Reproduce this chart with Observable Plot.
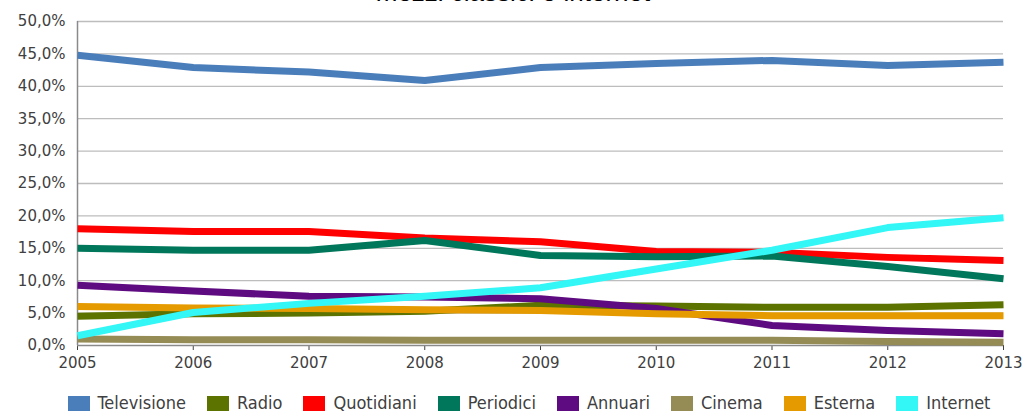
<!DOCTYPE html>
<html lang="it">
<head>
<meta charset="utf-8">
<script src="https://cdn.jsdelivr.net/npm/d3@7"></script>
<script src="https://cdn.jsdelivr.net/npm/@observablehq/plot@0.6"></script>
<style>
  html, body { margin: 0; padding: 0; background: #fff; }
  #wrap { position: relative; width: 1022px; height: 412px; overflow: hidden; }
  #title {
    position: absolute; top: -21px; left: 0; width: 1026px; text-align: center;
    font: 26px "Liberation Sans", Arial, sans-serif; line-height: 27px; color: #000;
  }
  #chart { position: absolute; top: 0; left: 0; }
  #legend {
    position: absolute; top: 395px; left: 0; width: 1022px; padding-left: 36px; box-sizing: border-box;
    display: flex; justify-content: center; gap: 21px;
    font: 18px "DejaVu Sans Condensed", "DejaVu Sans", sans-serif; color: #404040; line-height: 16px;
  }
  #legend .item { display: flex; align-items: center; gap: 8px; }
  #legend .sw { width: 22px; height: 15px; display: inline-block; }
</style>
</head>
<body>
<div id="wrap">
  <div id="title">mezzi classici e internet</div>
  <div id="chart"></div>
  <div id="legend"></div>
</div>
<script>
// Anni e quote di investimento pubblicitario per mezzo (%)
const years = [2005, 2006, 2007, 2008, 2009, 2010, 2011, 2012, 2013];
const televisione = [44.8, 42.9, 42.2, 40.9, 42.9, 43.5, 44.0, 43.2, 43.7];
const radio       = [4.5, 4.9, 5.0, 5.3, 6.2, 6.1, 5.9, 5.9, 6.3];
const quotidiani  = [18.0, 17.6, 17.6, 16.6, 16.0, 14.5, 14.4, 13.6, 13.1];
const periodici   = [15.0, 14.7, 14.7, 16.2, 13.9, 13.7, 13.8, 12.2, 10.3];
const annuari     = [9.3, 8.4, 7.6, 7.5, 7.2, 5.7, 3.1, 2.3, 1.8];
const cinema      = [1.0, 0.9, 0.9, 0.8, 0.8, 0.8, 0.8, 0.6, 0.5];
const esterna     = [6.0, 5.8, 5.7, 5.5, 5.4, 4.9, 4.6, 4.6, 4.6];
const internet    = [1.5, 5.1, 6.5, 7.6, 8.9, 11.8, 14.7, 18.2, 19.7];

const seriesNames = ["Televisione", "Radio", "Quotidiani", "Periodici", "Annuari", "Cinema", "Esterna", "Internet"];
const seriesValues = [televisione, radio, quotidiani, periodici, annuari, cinema, esterna, internet];
const seriesColors = ["#4a7ebb", "#5c7300", "#ff0000", "#00775a", "#5e0a80", "#958b55", "#e59b00", "#33f6f6"];
const yTicks = [0, 5, 10, 15, 20, 25, 30, 35, 40, 45, 50];

// Formato italiano: virgola decimale
const it = d3.formatLocale({decimal: ",", thousands: ".", grouping: [3], currency: ["€", ""]});
const fmt1 = it.format(".1f");

// Tabella lunga: una riga per mezzo e anno
const rows = seriesNames.flatMap((name, i) =>
  years.map((year, j) => ({mezzo: name, anno: year, quota: seriesValues[i][j]}))
);

const chart = Plot.plot({
  width: 1022,
  height: 392,
  marginTop: 21,
  marginLeft: 77,
  marginRight: 19,
  marginBottom: 47,
  style: {fontFamily: "'DejaVu Sans', Verdana, sans-serif", fontSize: "15px", color: "#404040", background: "transparent"},
  x: {domain: [2005, 2013], ticks: years, tickFormat: "d", tickSize: 5, tickPadding: 7, label: null},
  y: {domain: [0, 50], ticks: yTicks, tickFormat: d => fmt1(d) + "%", tickSize: 0, tickPadding: 12, label: null},
  color: {domain: seriesNames, range: seriesColors},
  marks: [
    Plot.ruleY(yTicks.filter(d => d > 0), {stroke: "#bdbdbd", strokeWidth: 1.3}),
    Plot.ruleX([2005], {stroke: "#8a8a8a", strokeWidth: 1.5}),
    Plot.ruleY([0], {stroke: "#8a8a8a", strokeWidth: 1.5}),
    Plot.line(rows, {
      x: "anno", y: "quota", z: "mezzo", stroke: "mezzo",
      strokeWidth: 7, strokeLinejoin: "round", strokeLinecap: "butt"
    })
  ]
});
document.getElementById("chart").append(chart);

// Legenda orizzontale sotto il grafico
const legend = document.getElementById("legend");
seriesNames.forEach((name, i) => {
  const item = document.createElement("span");
  item.className = "item";
  const sw = document.createElement("span");
  sw.className = "sw";
  sw.style.background = seriesColors[i];
  const label = document.createElement("span");
  label.textContent = name;
  item.append(sw, label);
  legend.append(item);
});
</script>
</body>
</html>
